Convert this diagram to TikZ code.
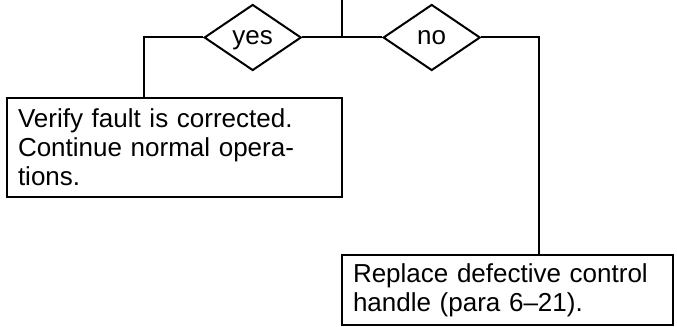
\documentclass[tikz,border=0pt]{standalone}
\usepackage{fontspec}
\setmainfont{Liberation Sans}
\usetikzlibrary{shapes.geometric}
\begin{document}
\begin{tikzpicture}[x=0.75pt,y=-0.75pt,
  every node/.style={font=\fontsize{19.5pt}{21.75pt}\selectfont},
  conn/.style={draw=black,line width=1.5pt},
  textbox/.style={draw=black,line width=1.5pt,rectangle,fill=white,align=left,inner ysep=0pt},
  decision/.style={draw=black,line width=1.5pt,diamond,fill=white,minimum width=72.75pt,minimum height=49.5pt,inner sep=0pt,text depth=0pt}
]
\useasboundingbox (0,0) rectangle (677,327);
\coordinate (top) at (341.7,0);
\coordinate (jn) at (341.7,37.5);
\coordinate (yfoot) at (144,97.5);
\coordinate (nfoot) at (539.3,255.5);
\node[decision] (yes) at (252.7,37.5) {yes};
\node[decision] (no) at (431.7,37.5) {no};
\node[textbox,minimum width=251.25pt,minimum height=74.6pt,inner xsep=8.25pt,text width=234.75pt] (verify) at (174.5,147.25)
  {Verify fault is corrected.\\Continue normal opera-\\tions.};
\node[textbox,minimum width=248.25pt,minimum height=51.75pt,inner xsep=8.6pt,text width=231pt] (replace) at (507,290)
  {Replace defective control\\handle (para 6–21).};
\draw[conn] (top) -- (jn);
\draw[conn] (jn) -- (yes.east);
\draw[conn] (jn) -- (no.west);
\draw[conn] (yes.west) -| (yfoot);
\draw[conn] (no.east) -| (nfoot);
\end{tikzpicture}
\end{document}
